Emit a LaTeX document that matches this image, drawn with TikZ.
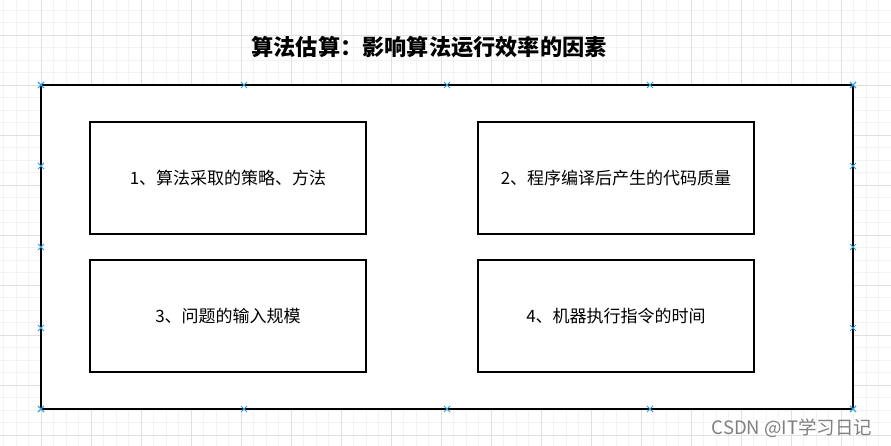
\documentclass[tikz,border=0pt]{standalone}
\usepackage{fontspec}
\newfontfamily\cjk{Noto Sans CJK SC}
\usetikzlibrary{positioning,calc}

\definecolor{gridminor}{HTML}{F3F3F3}
\definecolor{gridmajor}{HTML}{E0E0E0}
\definecolor{pinblue}{HTML}{2EA0E0}

\tikzset{
  factor/.style={draw=black, line width=2.2pt, fill=white, outer sep=0pt,
    minimum width=276pt, minimum height=112pt, inner sep=0pt,
    font=\cjk\fontsize{17}{20}\selectfont},
  pin mark/.style={draw=pinblue, line width=0.8pt},
}

\begin{document}
\begin{tikzpicture}[x=1pt, y=-1pt]
\useasboundingbox (0,0) rectangle (891,446);
\fill[white] (0,0) rectangle (891,446);

% Background grid (minor every 12.5, major every 50)
\foreach \x in {3.8,16.3,...,891} \draw[gridminor, line width=0.8pt] (\x,0) -- (\x,446);
\foreach \y in {10,22.5,...,446} \draw[gridminor, line width=0.8pt] (0,\y) -- (891,\y);
\foreach \x in {41.3,91.3,...,891} \draw[gridmajor, line width=0.8pt] (\x,0) -- (\x,446);
\foreach \y in {35,85,...,446} \draw[gridmajor, line width=0.8pt] (0,\y) -- (891,\y);

% Title
\node[font=\cjk\bfseries\fontsize{22.2}{26}\selectfont] (title) at (429,47)
  {算法估算：影响算法运行效率的因素};

% Outer frame
\node[draw=black, line width=2.2pt, fill=white, outer sep=0pt, inner sep=0pt,
  minimum width=812pt, minimum height=324pt] (outer) at (447,247) {};

% The four factors
\node[factor] (f1) at (228,178) {1、算法采取的策略、方法};
\node[factor, right=112pt of f1] (f2) {2、程序编译后产生的代码质量};
\node[factor, below=26pt of f1] (f3) {3、问题的输入规模};
\node[factor, right=112pt of f3] (f4) {4、机器执行指令的时间};

% Connection marks on the selected frame
\foreach \t in {0,0.25,0.5,0.75,1} {
  \foreach \a/\b in {north west/north east, south west/south east,
                     north west/south west, north east/south east} {
    \coordinate (m) at ($(outer.\a)!\t!(outer.\b)$);
    \draw[pin mark] ($(m)+(-3,-3)$) -- ($(m)+(3,3)$)
                    ($(m)+(-3,3)$) -- ($(m)+(3,-3)$);
  }
}

% Watermark
\node[anchor=east, text=black!50, font=\cjk\fontsize{18.5}{21}\selectfont]
  (mark) at (876,428) {CSDN @IT学习日记};
\end{tikzpicture}
\end{document}
